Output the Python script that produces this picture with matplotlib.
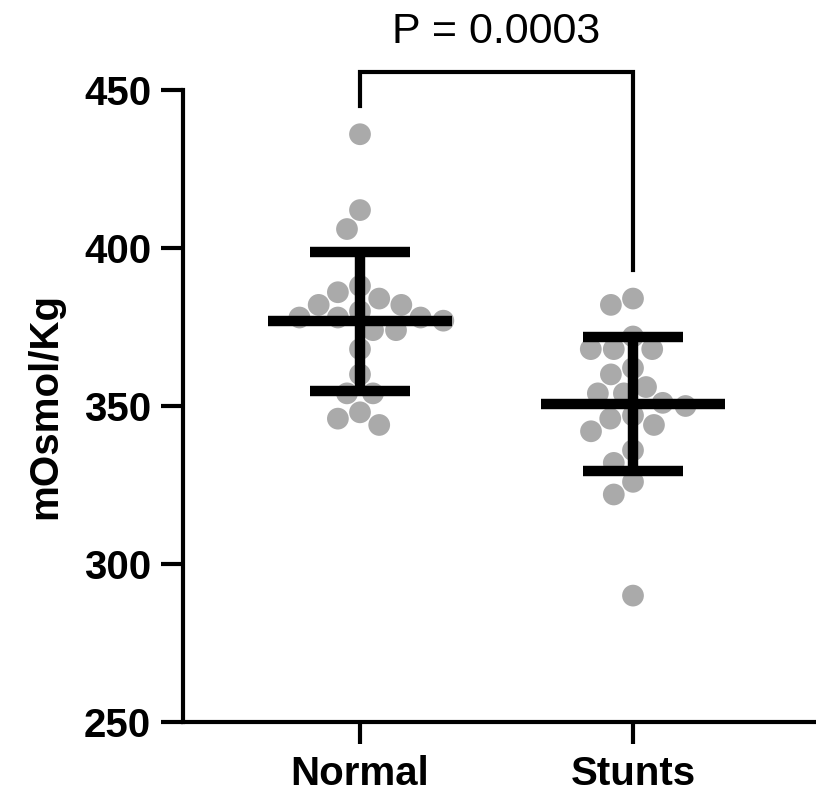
import numpy as np
import matplotlib
matplotlib.use("Agg")
import matplotlib.pyplot as plt

plt.rcParams['font.family'] = ['Liberation Sans', 'DejaVu Sans']

groups = ["Normal", "Stunts"]
normal = [436, 412, 406, 388, 386, 384, 382, 382, 380, 378, 378, 378, 377, 374, 374,
          368, 360, 354, 354, 348, 346, 344]
stunts = [384, 382, 372, 368, 368, 368, 362, 360, 356, 354, 354, 351, 350, 347, 346,
          344, 342, 336, 332, 326, 322, 290]
p_text = "P = 0.0003"
y_ticks = [250, 300, 350, 400, 450]
y_label = "mOsmol/Kg"

W, H, DPI = 816, 795, 100
fig = plt.figure(figsize=(W / DPI, H / DPI), dpi=DPI)
ax_l, ax_r, ax_t, ax_b = 183, 816, 90, 722
ax = fig.add_axes([ax_l / W, (H - ax_b) / H, (ax_r - ax_l) / W, (ax_b - ax_t) / H])
x_c0, x_c1 = 360, 633
ppu_x = x_c1 - x_c0
ax.set_xlim(-(x_c0 - ax_l) / ppu_x, (ax_r - x_c0) / ppu_x)
ax.set_ylim(250, 450)
ppu_y = (ax_b - ax_t) / 200.0

diam = 23.0  # px


def swarm(vals):
    vals = np.asarray(vals, float)
    order = np.argsort(-vals)
    placed = []  # (xpix, ypix)
    xs = np.zeros(len(vals))
    for i in order:
        yp = vals[i] * ppu_y
        cands = [0.0]
        for (px, py) in placed:
            dy = abs(py - yp)
            if dy < diam:
                dx = np.sqrt(diam ** 2 - dy ** 2)
                cands += [px + dx, px - dx]
        cands.sort(key=lambda c: (abs(c), c))
        for c in cands:
            ok = all((c - px) ** 2 + (yp - py) ** 2 >= diam ** 2 - 1e-6 for (px, py) in placed)
            if ok:
                xs[i] = c
                placed.append((c, yp))
                break
    return xs / ppu_x


for gi, vals in enumerate([normal, stunts]):
    xo = swarm(vals)
    ax.scatter(gi + xo, vals, s=245, color="#aaaaaa", edgecolors="none", zorder=2)
    m = np.mean(vals)
    sd = np.std(vals, ddof=1)
    lw = 7.5
    ax.plot([gi - 92 / ppu_x, gi + 92 / ppu_x], [m, m], color="black", lw=lw,
            solid_capstyle="butt", zorder=3)
    ax.plot([gi, gi], [m - sd, m + sd], color="black", lw=lw, solid_capstyle="butt", zorder=3)
    for yy in (m - sd, m + sd):
        ax.plot([gi - 50 / ppu_x, gi + 50 / ppu_x], [yy, yy], color="black", lw=lw,
                solid_capstyle="butt", zorder=3)

# significance bracket
def ypix_to_data(yp):
    return 250 + (ax_b - yp) / ppu_y

ytop = ypix_to_data(72)
ax.plot([0, 0, 1, 1], [ypix_to_data(106), ytop, ytop, ypix_to_data(270)],
        color="black", lw=3, clip_on=False, solid_joinstyle="miter", zorder=4)
ax.text(0.5, ypix_to_data(43), p_text, ha="center", va="baseline", fontsize=31,
        clip_on=False)

for s in ["top", "right"]:
    ax.spines[s].set_visible(False)
for s in ["left", "bottom"]:
    ax.spines[s].set_linewidth(3)
ax.set_yticks(y_ticks)
ax.set_yticklabels([str(t) for t in y_ticks], fontsize=29, fontweight="bold")
ax.set_xticks([0, 1])
ax.set_xticklabels(groups, fontsize=29, fontweight="bold")
ax.tick_params(axis="both", length=16, width=3, direction="out")
ax.tick_params(axis="y", pad=7)
ax.tick_params(axis="x", pad=8)
ax.set_ylabel(y_label, fontsize=29, fontweight="bold", labelpad=14)

fig.savefig("out.png", dpi=DPI)
